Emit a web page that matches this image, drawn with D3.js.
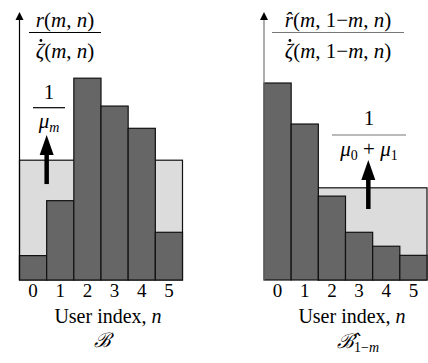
<!DOCTYPE html>
<html>
<head>
<meta charset="utf-8">
<script src="https://cdn.jsdelivr.net/npm/d3@7"></script>
<style>
  body { margin: 0; background: #fff; }
</style>
</head>
<body>
<div id="chart"></div>
<script>
// user indices
var users = [0, 1, 2, 3, 4, 5];
// left panel: r(m,n)/zeta(m,n)
var leftValues = [0.91, 2.96, 7.53, 6.49, 5.66, 1.78];
var leftLevel = 4.47;          // 1/mu_m
var leftArrow = [3.58, 5.41];  // arrow from, to
// right panel: r^(m,1-m,n)/zeta(m,1-m,n)
var rightValues = [7.35, 5.82, 3.13, 1.78, 1.26, 0.92];
var rightLevel = 3.44;         // 1/(mu0+mu1)
var rightArrow = [2.65, 4.48];

var width = 428, height = 363;
var serif = '"Liberation Serif", "DejaVu Serif", "Times New Roman", serif';

var svg = d3.select('#chart').append('svg')
  .attr('width', width)
  .attr('height', height)
  .attr('font-family', serif)
  .style('font-family', serif);

var y = d3.scaleLinear().domain([0, 10]).range([280, 12]);

function it(sel) { return sel.style('font-style', 'italic'); }

function drawPanel(opts) {
  var x = d3.scaleBand().domain(users).range(opts.range).padding(0);
  var g = svg.append('g');
  var x0 = opts.range[0], x1 = opts.range[1];

  // shaded level region
  var startIdx = opts.levelFrom;
  g.append('rect')
    .attr('x', x(users[startIdx]))
    .attr('y', y(opts.level))
    .attr('width', x1 - x(users[startIdx]))
    .attr('height', y(0) - y(opts.level))
    .style('fill', '#dcdcdc')
    .style('stroke', '#111')
    .style('stroke-width', 1.2);

  // bars
  g.selectAll('.bar')
    .data(opts.values)
    .enter().append('rect')
    .attr('class', 'bar')
    .attr('x', function(d, i) { return x(users[i]); })
    .attr('y', function(d) { return y(d); })
    .attr('width', x.bandwidth())
    .attr('height', function(d) { return y(0) - y(d); })
    .style('fill', '#666666')
    .style('stroke', '#111')
    .style('stroke-width', 1.2);

  // vertical axis with arrowhead
  g.append('line')
    .attr('x1', x0).attr('x2', x0)
    .attr('y1', y(0)).attr('y2', y(10) + 6)
    .style('stroke', opts.axisColor)
    .style('stroke-width', 1.2);
  g.append('path')
    .attr('d', 'M' + (x0 - 4) + ',' + (y(10) + 8) + 'L' + x0 + ',' + y(10) + 'L' + (x0 + 4) + ',' + (y(10) + 8) + 'Z')
    .style('fill', '#000');

  // big arrow
  var ax = opts.arrowX(x);
  var a0 = y(opts.arrow[0]), a1 = y(opts.arrow[1]);
  g.append('line')
    .attr('x1', ax).attr('x2', ax)
    .attr('y1', a0).attr('y2', a1 + 18)
    .style('stroke', '#000')
    .style('stroke-width', 4.5);
  g.append('path')
    .attr('d', 'M' + (ax - 7) + ',' + (a1 + 20) + 'L' + ax + ',' + a1 + 'L' + (ax + 7) + ',' + (a1 + 20) + 'Z')
    .style('fill', '#000');

  // tick labels
  g.selectAll('.tick')
    .data(users)
    .enter().append('text')
    .attr('x', function(d) { return x(d) + x.bandwidth() / 2; })
    .attr('y', 297)
    .attr('text-anchor', 'middle')
    .style('font-size', '19px')
    .text(function(d) { return d; });

  // x label
  var xl = g.append('text')
    .attr('x', opts.labelX).attr('y', 323)
    .attr('text-anchor', 'middle')
    .style('font-size', '20px');
  xl.append('tspan').text('User index, ');
  it(xl.append('tspan')).text('n');

  return { g: g, x: x };
}

// fraction: numerator / rule / denominator, returns denominator text
function fraction(g, cx, lineY, lx0, lx1, color, num, den, size, offN, offD) {
  var t1 = g.append('text').attr('x', cx).attr('y', lineY - offN)
    .attr('text-anchor', 'middle').style('font-size', size + 'px');
  num(t1);
  g.append('line').attr('x1', lx0).attr('x2', lx1)
    .attr('y1', lineY).attr('y2', lineY)
    .style('stroke', color).style('stroke-width', 1.2);
  var t2 = g.append('text').attr('x', cx).attr('y', lineY + offD)
    .attr('text-anchor', 'middle').style('font-size', size + 'px');
  den(t2);
  return t2;
}

// writes "(m, ..., n)" argument list
function args(t, mid) {
  t.append('tspan').text('(');
  it(t.append('tspan')).text('m');
  t.append('tspan').text(mid ? ', 1\u2212' : ', ');
  if (mid) { it(t.append('tspan')).text('m'); t.append('tspan').text(', '); }
  it(t.append('tspan')).text('n');
  t.append('tspan').text(')');
}

// dot over the leading zeta of a denominator
function zetaDot(g, t) {
  var node = t.node();
  var p = node.getStartPositionOfChar(0);
  var w = node.getSubStringLength(0, 1);
  g.append('circle')
    .attr('cx', p.x + w * 0.62)
    .attr('cy', p.y - 17)
    .attr('r', 1.4)
    .style('fill', '#000');
}

// Left panel
var L = drawPanel({
  range: [19.5, 182.5], values: leftValues, level: leftLevel, levelFrom: 0,
  arrow: leftArrow, axisColor: '#000',
  arrowX: function(x) { return x(users[1]); },
  labelX: 108
});
var dl = fraction(L.g, 65, 32.5, 29, 101, '#000',
  function(t) { it(t.append('tspan')).text('r'); args(t, false); },
  function(t) { it(t.append('tspan')).text('\u03B6'); args(t, false); }, 21, 6, 25);
zetaDot(L.g, dl);
fraction(L.g, 49, 107.7, 33, 65, '#000',
  function(t) { t.text('1'); },
  function(t) {
    it(t.append('tspan')).text('\u03BC');
    it(t.append('tspan')).attr('dy', 4).style('font-size', '14px').text('m');
  }, 21, 9, 20);
it(L.g.append('text')).attr('x', 102).attr('y', 347).attr('text-anchor', 'middle')
  .style('font-size', '20px').text('\u212C');

// Right panel
var R = drawPanel({
  range: [264, 427], values: rightValues, level: rightLevel, levelFrom: 2,
  arrow: rightArrow, axisColor: '#777',
  arrowX: function(x) { return x(users[3]) + x.bandwidth() * 0.84; },
  labelX: 352
});
var dr = fraction(R.g, 338, 32.5, 272, 404, '#777',
  function(t) { it(t.append('tspan')).text('r\u0302'); args(t, true); },
  function(t) { it(t.append('tspan')).text('\u03B6'); args(t, true); }, 21, 6, 25);
zetaDot(R.g, dr);
fraction(R.g, 369, 135, 332, 406, '#777',
  function(t) { t.text('1'); },
  function(t) {
    it(t.append('tspan')).text('\u03BC');
    t.append('tspan').attr('dy', 4).style('font-size', '14px').text('0');
    t.append('tspan').attr('dy', -4).text(' + ');
    it(t.append('tspan')).text('\u03BC');
    t.append('tspan').attr('dy', 4).style('font-size', '14px').text('1');
  }, 21, 10, 21);
var bl = R.g.append('text').attr('x', 358).attr('y', 348).attr('text-anchor', 'middle')
  .style('font-size', '20px');
it(bl.append('tspan')).text('\u212C\u0302');
bl.append('tspan').attr('dy', 4).style('font-size', '14px').text('1\u2212');
it(bl.append('tspan')).style('font-size', '14px').text('m');
</script>
</body>
</html>
